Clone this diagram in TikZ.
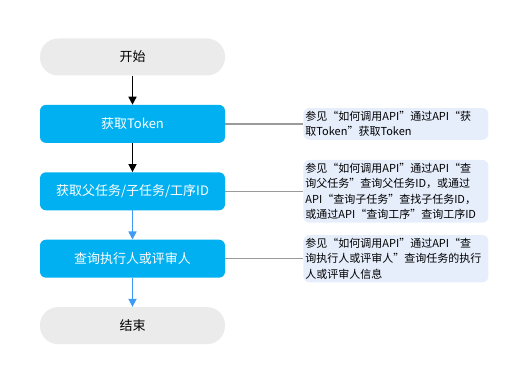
\documentclass[tikz,border=0pt]{standalone}
\usepackage{fontspec}
\setmainfont{Noto Sans CJK SC}
\usetikzlibrary{arrows.meta, positioning}

\definecolor{pillgray}{HTML}{EBEBEB}
\definecolor{stepblue}{HTML}{00B0F0}
\definecolor{arrowblue}{HTML}{3D9BF5}
\definecolor{noteblue}{HTML}{E6EEFC}
\definecolor{linkgray}{HTML}{9A9A9A}

\begin{document}
\begin{tikzpicture}[
    x=1pt, y=-1pt,
    node distance=29pt and 78pt,
    terminal/.style={rectangle, fill=pillgray, rounded corners=18pt,
                minimum height=37pt, minimum width=185pt, align=center,
                font=\fontsize{13}{15}\selectfont},
    stepbox/.style={rectangle, fill=stepblue, rounded corners=6pt,
                minimum height=38pt, minimum width=185pt, align=center,
                text=white, font=\fontsize{13}{15}\selectfont},
    note/.style={rectangle, fill=noteblue, rounded corners=6pt,
                text width=181pt, inner xsep=2pt, inner ysep=3pt, align=left,
                font=\fontsize{11}{15.5}\selectfont},
    arrow/.style={-{Triangle[length=8pt, width=8pt]}, line width=1.5pt},
    link/.style={draw=linkgray, line width=1.5pt},
]
\useasboundingbox (0,0) rectangle (525,379);

% 主流程节点
\node[terminal] (start) at (132.5,57) {开始};
\node[stepbox, below=of start] (token) {获取Token};
\node[stepbox, below=of token] (taskid) {获取父任务/子任务/工序ID};
\node[stepbox, below=of taskid] (query) {查询执行人或评审人};
\node[terminal, below=of query] (finish) {结束};

% 箭头
\draw[arrow, black] (start) -- (token);
\draw[arrow, black] (token) -- (taskid);
\draw[arrow, arrowblue] (taskid) -- (query);
\draw[arrow, arrowblue] (query) -- (finish);

% 说明
\node[note, right=of token] (tokennote)
    {参见“如何调用API”通过API“获\\取Token”获取Token};
\node[note, right=of taskid] (taskidnote)
    {参见“如何调用API”通过API“查\\询父任务”查询父任务ID，或通过\\API“查询子任务”查找子任务ID，\\或通过API“查询工序”查询工序ID};
\node[note, right=of query] (querynote)
    {参见“如何调用API”通过API“查\\询执行人或评审人”查询任务的执行\\人或评审人信息};

\draw[link] (token) -- (tokennote);
\draw[link] (taskid) -- (taskidnote);
\draw[link] (query) -- (querynote);
\end{tikzpicture}
\end{document}
